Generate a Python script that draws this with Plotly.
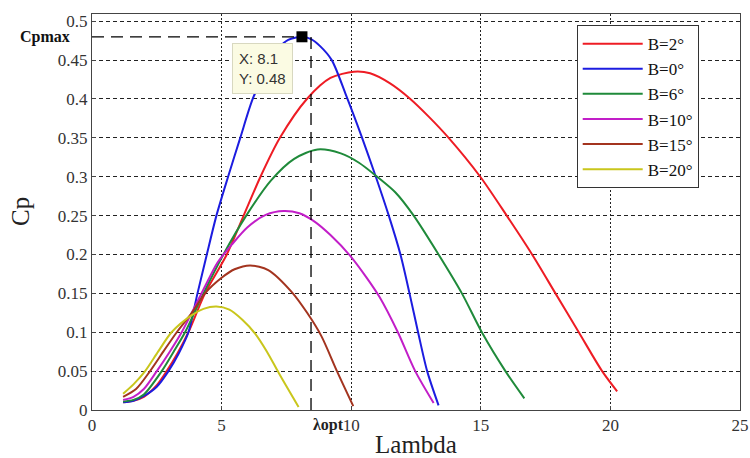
import plotly.graph_objects as go

# ---------------- data ----------------
lam_b0 = [1.2, 1.6, 2.0, 2.5, 2.95, 3.35, 3.72, 4.07, 4.43, 4.8, 5.25, 5.72, 6.2, 6.75, 7.2, 7.57, 8.1, 8.45, 8.8, 9.25, 9.8, 10.4, 10.95, 11.45, 11.9, 12.25, 12.58, 12.93, 13.37]
cp_b0 = [0.010, 0.012, 0.018, 0.030, 0.050, 0.073, 0.100, 0.150, 0.200, 0.250, 0.300, 0.350, 0.400, 0.440, 0.465, 0.476, 0.480, 0.477, 0.468, 0.450, 0.405, 0.352, 0.300, 0.250, 0.200, 0.150, 0.100, 0.050, 0.006]

lam_b2 = [1.2, 1.6, 2.0, 2.5, 2.88, 3.3, 3.72, 4.36, 5.2, 5.85, 6.5, 7.25, 8.29, 9.2, 10.1, 10.73, 11.5, 12.28, 13.0, 13.76, 14.98, 16.0, 16.98, 17.88, 18.78, 19.68, 20.26]
cp_b2 = [0.010, 0.012, 0.017, 0.032, 0.050, 0.073, 0.100, 0.150, 0.200, 0.250, 0.300, 0.350, 0.400, 0.427, 0.435, 0.433, 0.420, 0.400, 0.377, 0.350, 0.300, 0.250, 0.200, 0.150, 0.100, 0.050, 0.024]

lam_b6 = [1.2, 1.6, 2.0, 2.69, 3.15, 3.59, 4.3, 5.07, 5.95, 6.9, 7.8, 8.7, 9.6, 10.3, 11.0, 11.7, 12.41, 13.37, 14.27, 15.04, 15.95, 16.68]
cp_b6 = [0.011, 0.013, 0.020, 0.050, 0.075, 0.100, 0.150, 0.200, 0.250, 0.295, 0.323, 0.335, 0.330, 0.318, 0.300, 0.280, 0.250, 0.200, 0.150, 0.100, 0.050, 0.015]

lam_b10 = [1.2, 1.6, 2.0, 2.5, 3.0, 3.46, 4.3, 4.85, 5.4, 6.0, 6.7, 7.4, 8.0, 8.6, 9.2, 9.97, 10.6, 11.1, 11.8, 12.47, 13.18]
cp_b10 = [0.013, 0.017, 0.027, 0.050, 0.075, 0.100, 0.155, 0.190, 0.213, 0.235, 0.251, 0.256, 0.253, 0.242, 0.225, 0.198, 0.170, 0.145, 0.100, 0.050, 0.009]

lam_b15 = [1.2, 1.7, 2.24, 2.75, 3.27, 3.85, 4.36, 5.0, 5.5, 6.1, 6.8, 7.7, 8.3, 8.85, 9.45, 10.08]
cp_b15 = [0.017, 0.027, 0.050, 0.075, 0.100, 0.125, 0.150, 0.170, 0.181, 0.186, 0.180, 0.152, 0.125, 0.095, 0.050, 0.005]

lam_b20 = [1.2, 1.6, 2.05, 2.55, 3.07, 3.85, 4.3, 4.8, 5.3, 5.8, 6.3, 6.75, 7.2, 7.97]
cp_b20 = [0.021, 0.033, 0.050, 0.075, 0.100, 0.122, 0.130, 0.133, 0.129, 0.116, 0.098, 0.075, 0.048, 0.004]

series_names = ["B=2°", "B=0°", "B=6°", "B=10°", "B=15°", "B=20°"]
series_lam = [lam_b2, lam_b0, lam_b6, lam_b10, lam_b15, lam_b20]
series_cp = [cp_b2, cp_b0, cp_b6, cp_b10, cp_b15, cp_b20]
series_colors = ["#ee1c24", "#1c1ce0", "#1f8a3a", "#c21ec8", "#a3341f", "#c9c61c"]

x_ticks = [0, 5, 10, 15, 20, 25]
y_ticks = [0, 0.05, 0.1, 0.15, 0.2, 0.25, 0.3, 0.35, 0.4, 0.45, 0.5]
y_tick_text = ["0", "0.05", "0.1", "0.15", "0.2", "0.25", "0.3", "0.35", "0.4", "0.45", "0.5"]

lambda_opt = 8.1
cp_max = 0.48
lambda_opt_line = 8.45

SERIF = "Liberation Serif"

fig = go.Figure()
for name, xs, ys, col in zip(series_names, series_lam, series_cp, series_colors):
    fig.add_trace(go.Scatter(x=xs, y=ys, mode="lines", name=name,
                             line=dict(color=col, width=2, shape="spline", smoothing=0.8)))

# Cpmax guide lines
fig.add_shape(type="line", x0=0, x1=lambda_opt, y0=cp_max, y1=cp_max,
              line=dict(color="black", width=1.3, dash="12px,7px"), layer="above")
fig.add_shape(type="line", x0=lambda_opt_line, x1=lambda_opt_line, y0=0, y1=cp_max,
              line=dict(color="black", width=1.3, dash="12px,7px"), layer="above")

# marker at the maximum
fig.add_trace(go.Scatter(x=[lambda_opt], y=[cp_max], mode="markers", showlegend=False,
                         marker=dict(symbol="square", size=11, color="black")))

# data tip
fig.add_annotation(x=lambda_opt, y=cp_max, xref="x", yref="y", showarrow=False,
                   text="X: 8.1<br>Y: 0.48", align="left",
                   xanchor="right", yanchor="top", xshift=-9, yshift=-6,
                   font=dict(family="Liberation Sans", size=15, color="#333333"),
                   bgcolor="#fbfbe3", bordercolor="#d8d8c0", borderwidth=1, borderpad=6)

# Cpmax label
fig.add_annotation(x=0, y=cp_max, xref="paper", yref="y", showarrow=False,
                   text="<b>Cpmax</b>", xanchor="right", yanchor="middle", xshift=-20,
                   font=dict(family=SERIF, size=16, color="#111111"))

# lambda opt label
fig.add_annotation(x=10, y=0, xref="x", yref="y", showarrow=False,
                   text="<b>λopt</b>", xanchor="right", yanchor="top", xshift=-5, yshift=-4,
                   font=dict(family=SERIF, size=16, color="#222222"))

# y-axis title (placed like the reference)
fig.add_annotation(x=0, y=0.5, xref="paper", yref="paper", showarrow=False,
                   text="Cp", textangle=-90, xanchor="center", yanchor="middle", xshift=-72,
                   font=dict(family=SERIF, size=25, color="#222222"))

fig.update_layout(
    width=750, height=458,
    margin=dict(l=92, r=10, t=14, b=48),
    paper_bgcolor="white", plot_bgcolor="white",
    showlegend=True,
    legend=dict(x=0.748, y=0.972, xanchor="left", yanchor="top",
                bgcolor="white", bordercolor="#333333", borderwidth=1,
                font=dict(family=SERIF, size=17, color="#111111"),
                tracegroupgap=0, itemwidth=60),
    font=dict(family=SERIF, color="#222222"),
)

fig.update_xaxes(range=[0, 25], tickvals=x_ticks, ticktext=[str(v) for v in x_ticks],
                 automargin=False,
                 showline=True, linecolor="#444444", linewidth=1, mirror=True,
                 showgrid=True, gridcolor="#222222", gridwidth=1, griddash="2px,2px",
                 ticks="inside", ticklen=4, tickcolor="#444444",
                 tickfont=dict(family=SERIF, size=17, color="#333333"),
                 zeroline=False,
                 title=dict(text="Lambda", font=dict(family=SERIF, size=25, color="#222222"), standoff=2))
fig.update_yaxes(range=[0, 0.5093], tickvals=y_ticks, ticktext=y_tick_text,
                 automargin=False,
                 showline=True, linecolor="#444444", linewidth=1, mirror=True,
                 showgrid=True, gridcolor="#222222", gridwidth=1, griddash="4px,3px",
                 ticks="inside", ticklen=4, tickcolor="#444444",
                 tickfont=dict(family=SERIF, size=17, color="#333333"),
                 zeroline=False)

fig.write_html("out.html")
